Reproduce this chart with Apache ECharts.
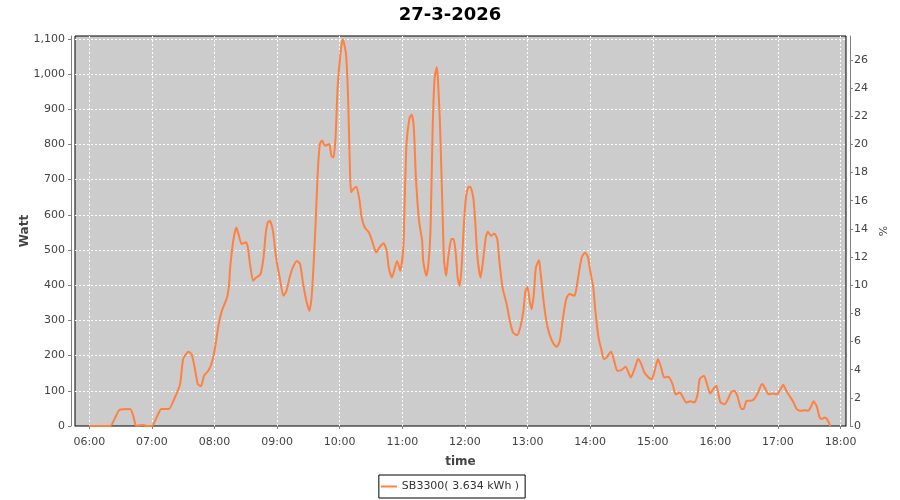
<!DOCTYPE html>
<html><head><meta charset="utf-8">
<script src="https://cdn.jsdelivr.net/npm/echarts@6/dist/echarts.min.js"></script>
<style>html,body{margin:0;padding:0;background:#fff}#c{width:900px;height:500px}</style>
</head><body><div id="c"></div>
<script>
const chartTitle = '27-3-2026';
const seriesName = 'SB3300( 3.634 kWh )';
const times = ['06:00','06:20','06:25','06:29','06:39','06:42','06:45','06:49','06:52','06:55','07:00','07:06','07:09','07:16','07:22','07:27','07:30','07:35','07:38','07:41','07:44','07:47','07:50','07:54','07:57','08:00','08:04','08:07','08:12','08:14','08:15','08:18','08:21','08:23','08:26','08:30','08:32','08:34','08:37','08:40','08:44','08:47','08:49','08:51','08:53','08:56','08:59','09:03','09:06','09:09','09:12','09:15','09:19','09:22','09:25','09:28','09:31','09:33','09:35','09:37','09:39','09:41','09:43','09:46','09:50','09:52','09:54','09:56','09:58','10:01','10:03','10:06','10:08','10:10','10:11','10:13','10:16','10:19','10:21','10:24','10:28','10:31','10:35','10:38','10:42','10:45','10:47','10:50','10:55','10:58','11:01','11:02','11:04','11:07','11:09','11:11','11:13','11:16','11:19','11:20','11:23','11:25','11:27','11:29','11:31','11:33','11:34','11:36','11:38','11:40','11:42','11:44','11:47','11:49','11:51','11:53','11:55','11:57','11:59','12:01','12:03','12:05','12:08','12:10','12:12','12:15','12:17','12:20','12:22','12:25','12:28','12:31','12:33','12:36','12:40','12:43','12:46','12:50','12:53','12:56','12:58','13:00','13:02','13:04','13:06','13:08','13:11','13:12','13:15','13:18','13:21','13:25','13:28','13:31','13:34','13:37','13:40','13:45','13:47','13:50','13:52','13:55','13:58','14:00','14:03','14:05','14:08','14:11','14:13','14:16','14:20','14:23','14:26','14:30','14:34','14:36','14:39','14:43','14:46','14:49','14:52','14:56','14:59','15:01','15:05','15:08','15:11','15:15','15:19','15:22','15:26','15:29','15:32','15:36','15:40','15:43','15:45','15:49','15:52','15:55','15:58','16:01','16:03','16:05','16:09','16:12','16:15','16:18','16:21','16:25','16:27','16:30','16:34','16:37','16:41','16:43','16:45','16:48','16:51','16:55','16:59','17:02','17:05','17:08','17:12','17:15','17:18','17:22','17:26','17:29','17:32','17:34','17:37','17:40','17:42','17:45','17:48','17:50'];
const watts = [0,0,25,46,48,30,0,2,3,0,0,34,48,48,81,119,190,211,204,166,119,113,143,157,176,214,289,327,365,403,450,527,564,545,517,522,507,460,413,422,431,479,545,578,583,555,479,413,370,384,422,450,469,460,403,356,327,365,460,583,725,801,811,796,801,768,763,820,962,1066,1099,1057,934,706,664,673,680,640,593,564,550,526,493,507,519,498,450,422,469,441,507,611,801,877,884,848,706,583,526,469,427,460,555,839,990,1019,990,867,667,469,427,479,531,531,498,422,398,460,574,649,677,680,649,574,479,422,460,536,552,540,547,531,469,394,346,299,266,258,280,327,384,394,356,332,375,450,471,450,365,299,261,233,225,242,308,360,375,370,394,450,479,493,479,441,394,327,252,214,190,195,212,185,157,159,168,157,138,166,190,176,152,138,133,147,190,166,138,140,119,90,95,81,67,70,67,90,133,143,119,92,105,114,90,67,62,76,95,100,86,48,48,72,72,76,95,111,119,105,90,92,90,102,117,100,81,67,48,43,45,43,57,70,57,24,20,24,15,0];
const xTickLabels = ['06:00','07:00','08:00','09:00','10:00','11:00','12:00','13:00','14:00','15:00','16:00','17:00','18:00'];
const wattTicks = [0,100,200,300,400,500,600,700,800,900,1000,1100];
const pctTicks = [0,2,4,6,8,10,12,14,16,18,20,22,24,26];

const toMin = s => { const p = s.split(':'); return +p[0]*60 + +p[1]; };
const fmtMin = v => { const h = Math.floor(v/60), m = Math.round(v - h*60); return String(h).padStart(2,'0') + ':' + String(m).padStart(2,'0'); };
const xMin = 346.3, xMax = 1085.2, wMax = 1108, pctPerWatt = 1/40;
const FONT = 'DejaVu Sans';
const gray = '#808080';
const dash = { color: '#ffffff', type: [2, 2], width: 1 };

const chart = echarts.init(document.getElementById('c'), null, { renderer: 'canvas' });
chart.setOption({
  backgroundColor: '#ffffff',
  animation: false,
  textStyle: { fontFamily: FONT },
  title: { text: chartTitle, left: 'center', top: 1, textStyle: { fontFamily: FONT, fontSize: 18, fontWeight: 'bold', color: '#000' } },
  legend: {
    bottom: 2, left: 'center', data: [seriesName],
    icon: 'path://M0 0H16V2H0Z',
    borderColor: '#000', borderWidth: 1, padding: [6, 6, 6, 2],
    itemWidth: 16, itemHeight: 2, itemGap: 5,
    textStyle: { fontFamily: FONT, fontSize: 11, color: '#333' }
  },
  grid: { left: 75, right: 54, top: 36, height: 390, show: true, backgroundColor: '#cccccc', borderColor: '#000', borderWidth: 1, containLabel: false },
  xAxis: {
    type: 'value', min: xMin, max: xMax, offset: 4,
    name: 'time', nameLocation: 'middle', nameGap: 26,
    nameTextStyle: { fontFamily: FONT, fontSize: 12, fontWeight: 'bold', color: '#444' },
    axisLine: { show: true, lineStyle: { color: gray } },
    axisTick: { show: true, length: 3, lineStyle: { color: gray }, customValues: xTickLabels.map(toMin) },
    axisLabel: { customValues: xTickLabels.map(toMin), formatter: fmtMin, fontSize: 11, color: '#444', margin: 7 },
    splitLine: { show: true, lineStyle: dash }
  },
  yAxis: [{
    type: 'value', min: 0, max: wMax, offset: 4, position: 'left',
    name: 'Watt', nameLocation: 'middle', nameGap: 40, nameMoveOverlap: false,
    nameTextStyle: { fontFamily: FONT, fontSize: 12, fontWeight: 'bold', color: '#444' },
    axisLine: { show: true, lineStyle: { color: gray } },
    axisTick: { show: true, length: 3, lineStyle: { color: gray }, customValues: wattTicks },
    axisLabel: { customValues: wattTicks, formatter: v => v.toLocaleString('en-US'), fontSize: 11, color: '#444', margin: 6 },
    splitLine: { show: true, lineStyle: dash }
  }, {
    type: 'value', min: 0, max: wMax * pctPerWatt, offset: 4, position: 'right',
    name: '%', nameLocation: 'middle', nameGap: 16,
    nameTextStyle: { fontFamily: FONT, fontSize: 11, color: '#444' },
    axisLine: { show: true, lineStyle: { color: gray } },
    axisTick: { show: true, length: 3, lineStyle: { color: gray }, customValues: pctTicks },
    axisLabel: { customValues: pctTicks, fontSize: 11, color: '#444', margin: 4 },
    splitLine: { show: false }
  }],
  series: [{
    name: seriesName, type: 'line', xAxisIndex: 0, yAxisIndex: 0,
    data: times.map((t, i) => [toMin(t), watts[i]]),
    showSymbol: false, symbol: 'none', smooth: 0.2,
    lineStyle: { color: '#ff8040', width: 2 }, itemStyle: { color: '#ff8040' }
  }]
});
</script></body></html>
